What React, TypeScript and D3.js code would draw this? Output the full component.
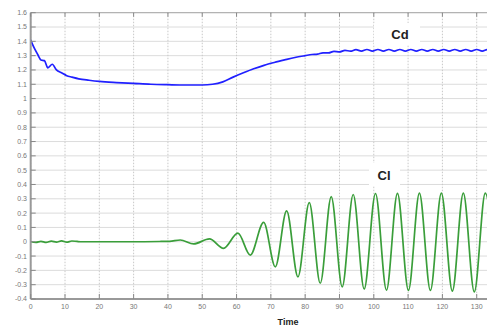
import React from "react";
import * as d3 from "d3";

const yTicks = [1.6, 1.5, 1.4, 1.3, 1.2, 1.1, 1, 0.9, 0.8, 0.7, 0.6, 0.5, 0.4, 0.3, 0.2, 0.1, 0, -0.1, -0.2, -0.3, -0.4];
const yTickLabels = ["1.6", "1.5", "1.4", "1.3", "1.2", "1.1", "1", "0.9", "0.8", "0.7", "0.6", "0.5", "0.4", "0.3", "0.2", "0.1", "0", "-0.1", "-0.2", "-0.3", "-0.4"];
const xTicks = [0, 10, 20, 30, 40, 50, 60, 70, 80, 90, 100, 110, 120, 130];

const cdTime = [0, 0.5, 1.2, 2, 3, 4, 5, 6.3, 7.5, 9, 10.5, 12, 14, 17, 20, 25, 30, 35, 40, 45, 50, 53, 56, 59, 62, 65, 68, 71, 74, 77, 80,
  82, 83.6, 85.2, 86.8, 88.4, 90.0, 91.6, 93.2, 94.8, 96.4, 98.0, 99.6, 101.2, 102.8, 104.4, 106.0, 107.6, 109.2, 110.8, 112.4, 114.0,
  115.6, 117.2, 118.8, 120.4, 122.0, 123.6, 125.2, 126.8, 128.4, 130.0, 131.6, 133.2, 134.8];
const cdValue = [1.41, 1.38, 1.345, 1.31, 1.27, 1.265, 1.215, 1.24, 1.2, 1.18, 1.16, 1.15, 1.138, 1.128, 1.12, 1.112, 1.106, 1.1, 1.097, 1.095, 1.095, 1.1, 1.117, 1.15, 1.18, 1.208, 1.232, 1.252, 1.27, 1.287, 1.3,
  1.308, 1.311, 1.32, 1.319, 1.33, 1.326, 1.337, 1.331, 1.342, 1.332, 1.343, 1.332, 1.343, 1.332, 1.343, 1.332, 1.343, 1.332, 1.343, 1.332, 1.343,
  1.332, 1.343, 1.332, 1.343, 1.332, 1.343, 1.332, 1.343, 1.332, 1.343, 1.332, 1.343, 1.332];

const clTime = [0, 1.5, 3, 4.5, 6, 7.5, 9, 10.5, 12, 13.5, 15, 20, 30, 38, 40.5, 43.6, 47.5, 52.1, 56.2, 60.4, 64.0, 67.9, 71.3, 74.6, 77.9,
  81.2, 84.4, 87.6, 90.8, 94.0, 97.2, 100.5, 103.7, 106.9, 110.1, 113.3, 116.5, 119.7, 122.9, 126.1, 129.3, 132.5, 135.7];
const clValue = [0, -0.004, 0.003, -0.005, 0.004, -0.002, 0.006, -0.003, 0.005, 0.002, 0, 0, 0, 0.002, 0.003, 0.012, -0.015, 0.02, -0.046, 0.06, -0.093, 0.135, -0.175, 0.215, -0.245,
  0.273, -0.29, 0.315, -0.315, 0.33, -0.33, 0.337, -0.338, 0.338, -0.34, 0.34, -0.34, 0.34, -0.345, 0.34, -0.35, 0.34, -0.35];

const W = 487, H = 327;
const left = 30.7, right = 487, top = 12.7, bottom = 299;

export default function App() {
  const x = d3.scaleLinear().domain([0, 133]).range([left, right]);
  const y = d3.scaleLinear().domain([-0.4, 1.6]).range([bottom, top]);
  const line = d3.line<[number, number]>().x(d => x(d[0])).y(d => y(d[1])).curve(d3.curveMonotoneX);
  const cdPath = line(cdTime.map((t, i) => [t, cdValue[i]]) as [number, number][]) || "";
  const clPath = line(clTime.map((t, i) => [t, clValue[i]]) as [number, number][]) || "";
  const font = "Liberation Sans, Arial, sans-serif";
  return (
    <svg width={W} height={H} style={{ position: "absolute", left: 0, top: 0, background: "#fff" }} fontFamily={font}>
      <defs>
        <clipPath id="plot"><rect x={left} y={top} width={right - left} height={bottom - top} /></clipPath>
      </defs>
      <rect x={0} y={0} width={W} height={H} fill="#fff" />
      {yTicks.map(v => (
        <line key={"h" + v} x1={left} x2={right} y1={y(v)} y2={y(v)} stroke="#dcdcdc" strokeWidth={1} />
      ))}
      {xTicks.map(v => (
        <line key={"v" + v} x1={x(v)} x2={x(v)} y1={top} y2={bottom} stroke="#c8c8c8" strokeWidth={1} strokeDasharray="1.5,1.5" />
      ))}
      <rect x={374} y={23} width={46} height={22} fill="#fff" />
      <rect x={369} y={163} width={31} height={23} fill="#fff" />
      <g clipPath="url(#plot)">
        <path d={cdPath} fill="none" stroke="#2020ff" strokeWidth={1.7} />
        <path d={clPath} fill="none" stroke="#3a9e3a" strokeWidth={1.7} />
      </g>
      <line x1={left} x2={right} y1={top} y2={top} stroke="#a8a8a8" strokeWidth={1} />
      <line x1={left} x2={left} y1={top} y2={bottom} stroke="#999" strokeWidth={2} />
      <line x1={left} x2={right} y1={bottom} y2={bottom} stroke="#999" strokeWidth={2} />
      {yTicks.map((v, i) => (
        <g key={"yt" + v}>
          <line x1={left} x2={left + 5} y1={y(v)} y2={y(v)} stroke="#888" strokeWidth={1} />
          <text x={27} y={y(v)} dy="0.35em" textAnchor="end" fontSize={7} fill="#777">{yTickLabels[i]}</text>
        </g>
      ))}
      {xTicks.map(v => (
        <g key={"xt" + v}>
          <line x1={x(v)} x2={x(v)} y1={bottom} y2={bottom - 5} stroke="#888" strokeWidth={1} />
          <line x1={x(v)} x2={x(v)} y1={top} y2={top + 4} stroke="#888" strokeWidth={1} />
          <text x={x(v)} y={309} textAnchor="middle" fontSize={7} fill="#777">{v}</text>
        </g>
      ))}
      <text x={288} y={325} textAnchor="middle" fontSize={9} fontWeight="bold" fill="#222">Time</text>
      <text x={400} y={39} textAnchor="middle" fontSize={13} fontWeight="bold" fill="#222">Cd</text>
      <text x={384} y={180} textAnchor="middle" fontSize={13} fontWeight="bold" fill="#222">Cl</text>
    </svg>
  );
}
